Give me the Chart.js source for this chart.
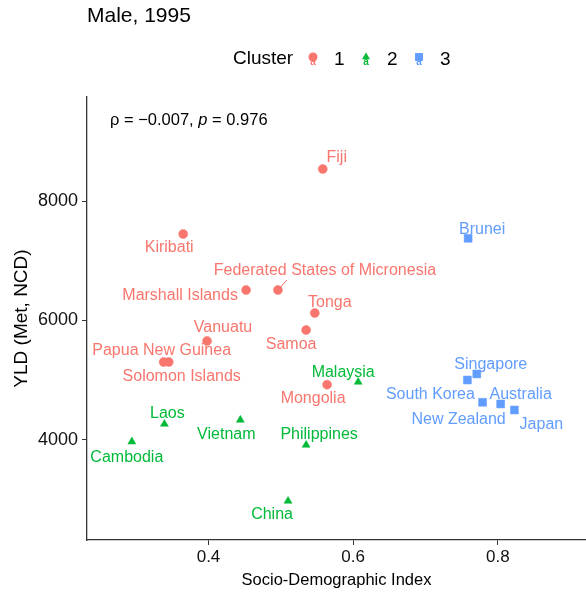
<!DOCTYPE html>
<html>
<head>
<meta charset="utf-8">
<script src="https://cdn.jsdelivr.net/npm/chart.js@4.4.1/dist/chart.umd.min.js"></script>
<style>
  html, body { margin: 0; padding: 0; background: #ffffff; }
  #wrap { width: 586px; height: 595px; position: relative; }
</style>
</head>
<body>
<div id="wrap"><canvas id="chart" width="586" height="595"></canvas></div>
<script>
// Country-level values: Socio-Demographic Index vs YLD (Met, NCD), males, 1995
const countries = [
  'Fiji', 'Kiribati', 'Marshall Islands', 'Federated States of Micronesia', 'Tonga',
  'Samoa', 'Vanuatu', 'Papua New Guinea', 'Solomon Islands', 'Mongolia',
  'Malaysia', 'Laos', 'Vietnam', 'Cambodia', 'Philippines', 'China',
  'Brunei', 'Singapore', 'South Korea', 'New Zealand', 'Australia', 'Japan'
];
const sdi = [
  0.558, 0.365, 0.452, 0.496, 0.547,
  0.535, 0.398, 0.338, 0.345, 0.564,
  0.607, 0.339, 0.444, 0.294, 0.535, 0.510,
  0.759, 0.771, 0.758, 0.779, 0.804, 0.823
];
const yld = [
  8536, 7448, 6510, 6510, 6126,
  5841, 5657, 5305, 5305, 4926,
  4971, 4268, 4335, 3972, 3916, 2979,
  7376, 5105, 5004, 4631, 4603, 4502
];
const cluster = [
  1, 1, 1, 1, 1,
  1, 1, 1, 1, 1,
  2, 2, 2, 2, 2, 2,
  3, 3, 3, 3, 3, 3
];
const clusterIds = [1, 2, 3];
const xTicks = [0.4, 0.6, 0.8];
const yTicks = [4000, 6000, 8000];
const corR = -0.007;
const corP = 0.976;

const FONT = '"Liberation Sans", Arial, Helvetica, sans-serif';
const clusterColors = { 1: '#F8766D', 2: '#00BA38', 3: '#619CFF' };
const clusterShapes = { 1: 'circle', 2: 'triangle', 3: 'rect' };
const clusterRadius = { 1: 4.5, 2: 4.6, 3: 5.6 };

// label placement relative to each point (pixels)
const nudge = {
  'Fiji': [14, -11], 'Kiribati': [-14, 14], 'Marshall Islands': [-66, 6],
  'Federated States of Micronesia': [47, -19], 'Tonga': [15, -10], 'Samoa': [-15, 15],
  'Vanuatu': [16, -13], 'Papua New Guinea': [-2, -11], 'Solomon Islands': [13, 15],
  'Mongolia': [-14, 14], 'Malaysia': [-15, -9], 'Laos': [3, -10], 'Vietnam': [-14, 15],
  'Cambodia': [-5, 16], 'Philippines': [13, -10], 'China': [-16, 14], 'Brunei': [14, -9],
  'Singapore': [14, -9], 'South Korea': [-37, 15], 'New Zealand': [-24, 17],
  'Australia': [20, -9], 'Japan': [27, 15]
};
const withSegment = { 'Federated States of Micronesia': true };

const datasets = clusterIds.map(c => ({
  label: String(c),
  data: countries
    .map((name, i) => ({ x: sdi[i], y: yld[i], name, c: cluster[i] }))
    .filter(d => d.c === c),
  pointStyle: clusterShapes[c],
  pointRadius: clusterRadius[c],
  pointHoverRadius: clusterRadius[c],
  backgroundColor: clusterColors[c],
  borderColor: clusterColors[c],
  borderWidth: 0.5
}));

const countryLabels = {
  id: 'countryLabels',
  afterDatasetsDraw(chart) {
    const ctx = chart.ctx;
    ctx.save();
    ctx.font = '16px ' + FONT;
    ctx.textAlign = 'center';
    ctx.textBaseline = 'middle';
    chart.data.datasets.forEach((ds, di) => {
      const meta = chart.getDatasetMeta(di);
      meta.data.forEach((el, i) => {
        const d = ds.data[i];
        const [dx, dy] = nudge[d.name] || [0, -12];
        const color = clusterColors[d.c];
        const lx = el.x + dx, ly = el.y + dy;
        if (withSegment[d.name]) {
          ctx.strokeStyle = color;
          ctx.lineWidth = 1;
          ctx.beginPath();
          ctx.moveTo(el.x, el.y);
          ctx.lineTo(el.x + 9, ly + 9);
          ctx.stroke();
        }
        ctx.fillStyle = color;
        ctx.fillText(d.name, lx, ly);
      });
    });
    ctx.restore();
  }
};

function drawShape(ctx, style, x, y, r) {
  Chart.helpers.drawPoint(ctx, { pointStyle: style, radius: r, rotation: 0, borderWidth: 0 }, x, y);
}

const decorations = {
  id: 'decorations',
  afterDraw(chart) {
    const ctx = chart.ctx;
    ctx.save();
    // title
    ctx.fillStyle = '#000000';
    ctx.font = '21px ' + FONT;
    ctx.textAlign = 'left';
    ctx.textBaseline = 'middle';
    ctx.fillText('Male, 1995', 87, 16);

    // legend
    ctx.font = '19px ' + FONT;
    ctx.fillText('Cluster', 233, 59);
    const keyX = { 1: 313, 2: 366, 3: 419 };
    clusterIds.forEach(c => {
      const color = clusterColors[c];
      ctx.fillStyle = color;
      ctx.font = 'bold 10px ' + FONT;
      ctx.textAlign = 'center';
      ctx.fillText('a', keyX[c], 62);
      ctx.fillStyle = color;
      ctx.strokeStyle = color;
      drawShape(ctx, clusterShapes[c], keyX[c], 57, clusterRadius[c]);
      ctx.fillStyle = '#000000';
      ctx.font = '19px ' + FONT;
      ctx.textAlign = 'left';
      ctx.fillText(String(c), keyX[c] + 21, 60);
    });

    // correlation annotation
    let x = 110, y = 120;
    ctx.font = '16.5px ' + FONT;
    ctx.textAlign = 'left';
    ctx.fillStyle = '#000000';
    const fmt = v => (v < 0 ? '\u2212' : '') + Math.abs(v).toFixed(3);
    const part1 = '\u03C1 = ' + fmt(corR) + ', ';
    ctx.fillText(part1, x, y);
    x += ctx.measureText(part1).width;
    ctx.font = 'italic 16.5px ' + FONT;
    ctx.fillText('p', x, y);
    x += ctx.measureText('p').width;
    ctx.font = '16.5px ' + FONT;
    ctx.fillText(' = ' + fmt(corP), x, y);
    ctx.restore();
  }
};

new Chart(document.getElementById('chart'), {
  type: 'scatter',
  data: { datasets },
  options: {
    responsive: false,
    devicePixelRatio: 1,
    animation: false,
    layout: { autoPadding: false, padding: { top: 97, left: 0, right: 0, bottom: 0 } },
    plugins: {
      legend: { display: false },
      title: { display: false },
      tooltip: { enabled: false }
    },
    scales: {
      x: {
        type: 'linear',
        min: 0.232,
        max: 0.922,
        afterBuildTicks: s => { s.ticks = xTicks.map(v => ({ value: v })); },
        afterFit: s => { s.height = 55; },
        grid: { display: true, drawOnChartArea: false, drawTicks: true, tickLength: 5, color: '#333333', tickColor: '#333333' },
        border: { display: true, color: '#333333', width: 1.3 },
        ticks: {
          color: '#111111',
          font: { family: FONT, size: 17 },
          padding: 2,
          maxRotation: 0,
          callback: v => v.toFixed(1)
        },
        title: {
          display: true,
          text: 'Socio-Demographic Index',
          color: '#000000',
          font: { family: FONT, size: 16.5 },
          padding: { top: 0, bottom: 5 }
        }
      },
      y: {
        type: 'linear',
        min: 2326,
        max: 9741,
        afterBuildTicks: s => { s.ticks = yTicks.map(v => ({ value: v })); },
        afterFit: s => { s.width = 87; },
        grid: { display: true, drawOnChartArea: false, drawTicks: true, tickLength: 5, color: '#333333', tickColor: '#333333' },
        border: { display: true, color: '#333333', width: 1.3 },
        ticks: {
          color: '#111111',
          font: { family: FONT, size: 18 },
          padding: 4,
          callback: v => String(v)
        },
        title: {
          display: true,
          text: 'YLD (Met, NCD)',
          color: '#000000',
          font: { family: FONT, size: 19 },
          padding: { top: 10.5, bottom: 0 }
        }
      }
    }
  },
  plugins: [countryLabels, decorations]
});
</script>
</body>
</html>
